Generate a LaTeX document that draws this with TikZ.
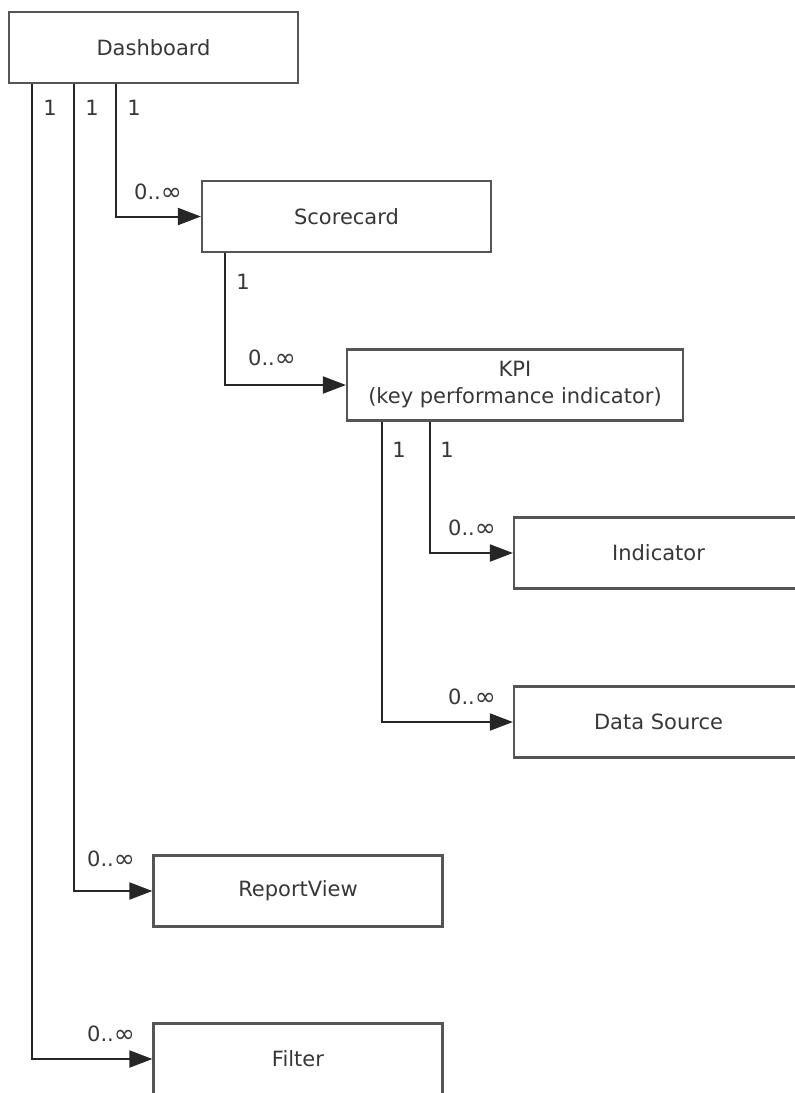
\documentclass[tikz,border=0pt]{standalone}
\usepackage{fontspec}
\setmainfont{DejaVu Sans}
\usetikzlibrary{arrows.meta}
\definecolor{boxgray}{RGB}{85,85,85}
\definecolor{txtgray}{RGB}{55,55,55}
\newcommand{\infsym}{\raisebox{-0.5pt}{\scalebox{1.2}{∞}}}
\tikzset{
	box/.style={draw=boxgray,line width=2.2pt,rectangle,minimum width=289pt,minimum height=71pt,inner sep=0pt,text=txtgray,font=\fontsize{21}{27}\selectfont,align=center},
	conn/.style={draw=black!85,line width=2pt,-{Triangle[length=23pt,width=17pt]}},
	lbl/.style={text=txtgray,font=\fontsize{21}{24}\selectfont,inner sep=0pt}
}
\begin{document}
\begin{tikzpicture}[x=1pt,y=-1pt]
	\useasboundingbox (0,0) rectangle (795,1093);
	\clip (0,0) rectangle (795,1093);
	\node (dash) at (153.5,47.5) [box]{Dashboard};
	\node (score) at (346.5,216.5) [box]{Scorecard};
	\node (kpi) at (515,385) [box,minimum width=336pt]{KPI\\(key performance indicator)};
	\node (ind) at (658.5,553) [box]{Indicator};
	\node (src) at (658.5,722) [box]{Data Source};
	\node (view) at (298,891) [box]{ReportView};
	\node (filt) at (298,1059) [box]{Filter};
	\draw[conn] ([xshift=24pt]dash.south west) |- (filt.west);
	\draw[conn] ([xshift=66pt]dash.south west) |- (view.west);
	\draw[conn] ([xshift=108pt]dash.south west) |- (score.west);
	\draw[conn] ([xshift=24pt]score.south west) |- (kpi.west);
	\draw[conn] ([xshift=36pt]kpi.south west) |- (src.west);
	\draw[conn] ([xshift=84pt]kpi.south west) |- (ind.west);
	\node (d1) at (50,108) [lbl]{1};
	\node (d2) at (92,108) [lbl]{1};
	\node (d3) at (134,108) [lbl]{1};
	\node (s1) at (243,282) [lbl]{1};
	\node (k1) at (399,450) [lbl]{1};
	\node (k2) at (447,450) [lbl]{1};
	\node (nscore) at (158,192) [lbl]{0..\infsym};
	\node (nkpi) at (272,358) [lbl]{0..\infsym};
	\node (nind) at (472,528) [lbl]{0..\infsym};
	\node (nsrc) at (472,697) [lbl]{0..\infsym};
	\node (nview) at (111,859) [lbl]{0..\infsym};
	\node (nfilt) at (111,1034) [lbl]{0..\infsym};
\end{tikzpicture}
\end{document}
